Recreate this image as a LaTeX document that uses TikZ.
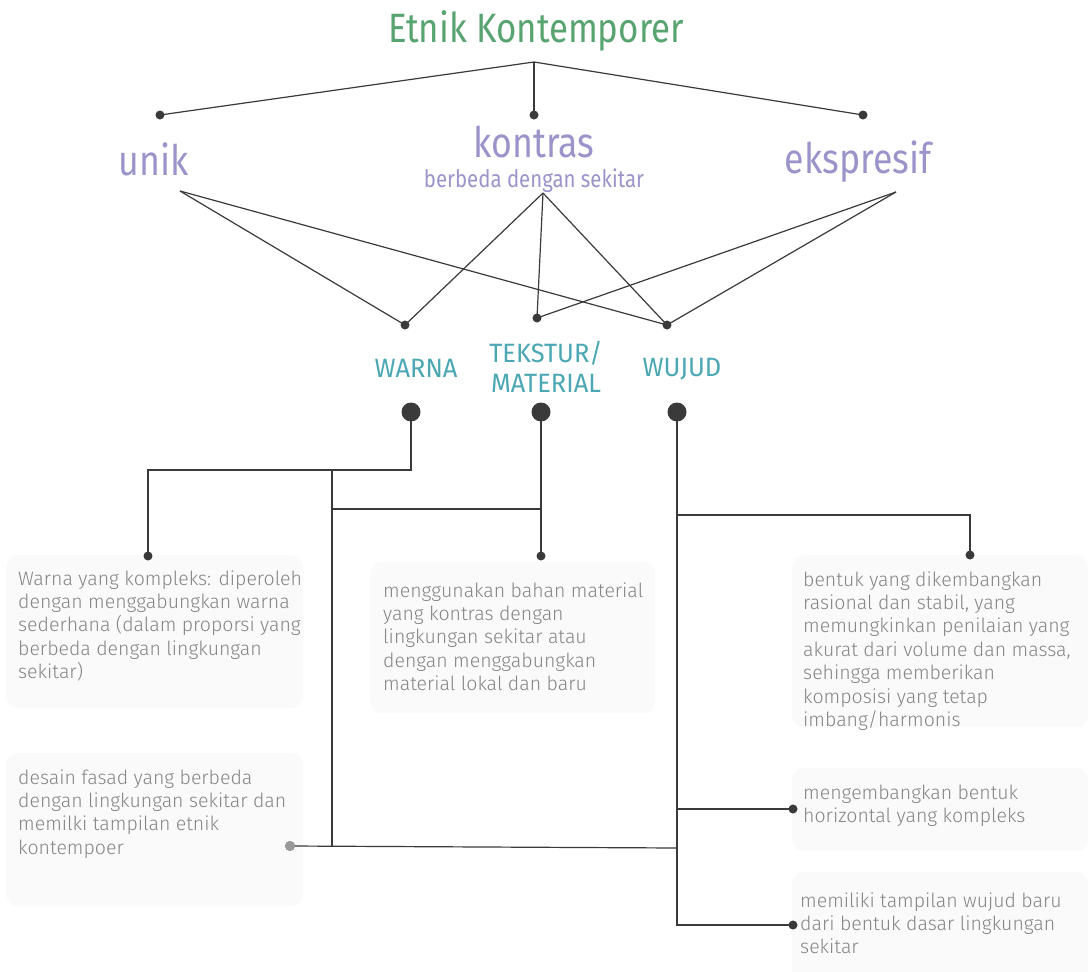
\documentclass[tikz,border=0pt]{standalone}
\usepackage{fontspec}
\setmainfont{Fira Sans}
\newfontfamily\headfont{Fira Sans}[FakeStretch=0.85]
\newfontfamily\tealfont{Fira Sans}[FakeStretch=0.96]
\newfontfamily\bodyfont{Fira Sans Light}
\definecolor{titlegreen}{HTML}{58A470}
\definecolor{lav}{HTML}{9A94CA}
\definecolor{teal}{HTML}{4AA7B3}
\definecolor{bodygray}{HTML}{858585}
\definecolor{linec}{HTML}{3A3A3A}
\definecolor{boxfill}{HTML}{FAFAFA}
\tikzset{
  conn/.style={draw=linec, line width=1.2pt},
  smalldot/.style={circle, fill=linec, inner sep=0pt, minimum size=9pt},
  bigdot/.style={circle, fill=linec, inner sep=0pt, minimum size=19pt},
  graydot/.style={circle, fill=black!40, inner sep=0pt, minimum size=10pt},
  titletext/.style={inner sep=0pt, anchor=base, text=titlegreen, font=\headfont\fontsize{41}{45}\selectfont},
  lavtext/.style={inner sep=0pt, anchor=base, text=lav, font=\headfont\fontsize{42}{46}\selectfont},
  lavsmall/.style={inner sep=0pt, anchor=base, text=lav, font=\headfont\fontsize{24}{28}\selectfont},
  tealtext/.style={inner sep=0pt, anchor=base, text=teal, font=\tealfont\fontsize{26.5}{30}\selectfont},
  infobox/.style={fill=boxfill, rounded corners=12pt, inner sep=0pt, anchor=north west},
  bodytext/.style={inner sep=0pt, anchor=base west, text=bodygray, font=\bodyfont\fontsize{19.5}{23.4}\selectfont}
}
\begin{document}
\begin{tikzpicture}[x=1pt, y=-1pt]
\useasboundingbox (0,0) rectangle (1088,972);
\fill[white] (0,0) rectangle (1088,972);

% title
\node[titletext] (title) at (536,42) {Etnik Kontemporer};
\coordinate (J) at (534,62);

% top dots
\node[smalldot] (d1) at (160,115) {};
\node[smalldot] (d2) at (534,115) {};
\node[smalldot] (d3) at (863,115) {};
\draw[conn] (J) -- (d1.center);
\draw[conn] (J) -- (d2.center);
\draw[conn] (J) -- (d3.center);

% lavender labels
\node[lavtext] (unik) at (154,175) {unik};
\node[lavtext] (kontras) at (534,157) {kontras};
\node[lavsmall] (berbeda) at (534,187) {berbeda dengan sekitar};
\node[lavtext] (ekspresif) at (858,173) {ekspresif};
\coordinate (a1) at (180,191);
\coordinate (a2) at (543,193);
\coordinate (a3) at (896,192);

% second-level dots
\node[smalldot] (w) at (405,325) {};
\node[smalldot] (t) at (537,318) {};
\node[smalldot] (u) at (667,325) {};
\draw[conn] (a1) -- (w.center);
\draw[conn] (a1) -- (u.center);
\draw[conn] (a2) -- (w.center);
\draw[conn] (a2) -- (t.center);
\draw[conn] (a2) -- (u.center);
\draw[conn] (a3) -- (t.center);
\draw[conn] (a3) -- (u.center);

% teal labels
\node[tealtext] (warna) at (416,377) {WARNA};
\node[tealtext] (tekstur) at (546,362) {TEKSTUR/};
\node[tealtext] (material) at (546,392) {MATERIAL};
\node[tealtext] (wujud) at (682,376) {WUJUD};

% big dots
\node[bigdot] (W) at (411,412) {};
\node[bigdot] (T) at (541,412) {};
\node[bigdot] (U) at (677,412) {};

% boxes
\node[infobox, minimum width=297pt, minimum height=153pt] (b1) at (6,555) {};
\node[infobox, minimum width=285pt, minimum height=151pt] (b2) at (370,562) {};
\node[infobox, minimum width=296pt, minimum height=172pt] (b3) at (792,555) {};
\node[infobox, minimum width=297pt, minimum height=153pt] (b4) at (6,753) {};
\node[infobox, minimum width=296pt, minimum height=83pt] (b5) at (792,768) {};
\node[infobox, minimum width=296pt, minimum height=110pt] (b6) at (792,872) {};

\node[bodytext] (t1) at (18,585) {\parbox[t]{290pt}{Warna yang kompleks: diperoleh\\dengan menggabungkan warna\\sederhana (dalam proporsi yang\\berbeda dengan lingkungan\\sekitar)}};
\node[bodytext] (t2) at (383,597) {\parbox[t]{280pt}{menggunakan bahan material\\yang kontras dengan\\lingkungan sekitar atau\\dengan menggabungkan\\material lokal dan baru}};
\node[bodytext] (t3) at (803,586) {\parbox[t]{285pt}{bentuk yang dikembangkan\\rasional dan stabil, yang\\memungkinkan penilaian yang\\akurat dari volume dan massa,\\sehingga memberikan\\komposisi yang tetap\\imbang/harmonis}};
\node[bodytext] (t4) at (18,784) {\parbox[t]{290pt}{desain fasad yang berbeda\\dengan lingkungan sekitar dan\\memilki tampilan etnik\\kontempoer}};
\node[bodytext] (t5) at (803,799) {\parbox[t]{285pt}{mengembangkan bentuk\\horizontal yang kompleks}};
\node[bodytext] (t6) at (800,907) {\parbox[t]{285pt}{memiliki tampilan wujud baru\\dari bentuk dasar lingkungan\\sekitar}};

% box dots
\node[smalldot] (s1) at (148,556) {};
\node[smalldot] (s2) at (541,556) {};
\node[smalldot] (s3) at (970,555) {};
\node[smalldot] (s5) at (793,809) {};
\node[smalldot] (s6) at (793,925) {};
\node[graydot] (g) at (290,846) {};

% junction coordinates
\coordinate (wj) at (411,470);
\coordinate (wl) at (148,470);
\coordinate (vtop) at (332,470);
\coordinate (vbot) at (332,846);
\coordinate (tj) at (541,509);
\coordinate (tl) at (332,509);
\coordinate (uj1) at (677,515);
\coordinate (uj1r) at (970,515);
\coordinate (uj2) at (677,809);
\coordinate (uj3) at (677,925);
\coordinate (gr) at (677,848);

% lower connectors
\draw[conn] (W.center) -- (wj) -- (wl) -- (s1.center);
\draw[conn] (vtop) -- (vbot);
\draw[conn] (T.center) -- (s2.center);
\draw[conn] (tl) -- (tj);
\draw[conn] (U.center) -- (uj3) -- (s6.center);
\draw[conn] (uj1) -- (uj1r) -- (s3.center);
\draw[conn] (uj2) -- (s5.center);
\draw[conn] (g.center) -- (gr);
\node[graydot] at (g) {};
\end{tikzpicture}
\end{document}
